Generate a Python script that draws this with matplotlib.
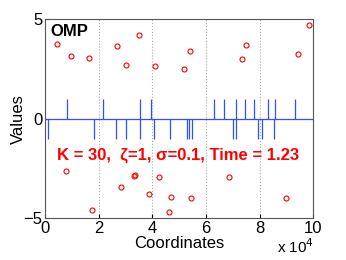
import numpy as np
import matplotlib
matplotlib.use('Agg')
import matplotlib.pyplot as plt
from matplotlib.ticker import FuncFormatter

plt.rcParams['font.family'] = ['Liberation Sans', 'DejaVu Sans']

# true signal (red circles): coordinate, value
circ_x = [4480, 9700, 16500, 26700, 30200, 35200, 40900, 51900, 53900, 73500, 74900, 94300, 98400,
          7700, 17500, 28400, 33300, 33700, 38900, 42400, 46300, 47000, 54500, 68700, 89800]
circ_y = [3.77, 3.16, 3.06, 3.65, 2.71, 4.19, 2.66, 2.52, 3.41, 3.01, 3.72, 3.26, 4.71,
          -2.63, -4.60, -3.42, -2.87, -2.82, -3.79, -2.96, -4.71, -3.94, -4.01, -2.96, -3.99]

# recovered spikes (blue): coordinate, value
up_x = [8320, 21530, 35560, 39440, 63170, 66900, 71160, 74630, 77870, 83100, 85820, 93280]
down_x = [1120, 18360, 26600, 30340, 35560, 40560, 46640, 52870, 53730, 54850,
          70040, 71380, 79590, 80970, 85560]
spike_x = up_x + down_x
spike_y = [1] * len(up_x) + [-1] * len(down_x)

fig = plt.figure(figsize=(3.46, 2.60), dpi=100)
ax = fig.add_axes([0.130, 0.1615, 0.775, 0.7645])

blue = '#3050ff'
ax.axhline(0, color=blue, lw=0.9, zorder=2)
ax.vlines(spike_x, 0, spike_y, color=blue, lw=0.9, zorder=2)
ax.plot(circ_x, circ_y, 'o', mfc='none', mec='red', ms=3.6, mew=0.8, zorder=3)

ax.set_xlim(0, 100000)
ax.set_ylim(-5, 5)
ax.set_xticks([0, 20000, 40000, 60000, 80000, 100000])
ax.set_yticks([-5, 0, 5])
ax.xaxis.set_major_formatter(FuncFormatter(lambda v, p: '%g' % (v / 1e4)))
ax.yaxis.set_major_formatter(FuncFormatter(lambda v, p: ('\u2212%g' % -v) if v < 0 else '%g' % v))
ax.grid(axis='x', color='#aaaaaa', ls=':', lw=0.8)
ax.tick_params(direction='in', length=3, labelsize=12, colors='black', pad=2)
for s in ax.spines.values():
    s.set_color('#555555')
    s.set_linewidth(0.8)

ax.set_xlabel('Coordinates', fontsize=12, labelpad=0)
ax.set_ylabel('Values', fontsize=12, labelpad=-2)
fig.text(0.80, 0.015, 'x 10$^4$', fontsize=11, ha='left', va='bottom')

ax.text(0.02, 0.975, 'OMP', transform=ax.transAxes, fontsize=12, fontweight='bold',
        ha='left', va='top')
ax.text(0.045, 0.318, 'K = 30,  \u03b6=1, \u03c3=0.1, Time = 1.23', transform=ax.transAxes,
        fontsize=12, fontweight='bold', color='red', ha='left', va='center')

fig.savefig('out.png', dpi=100)
